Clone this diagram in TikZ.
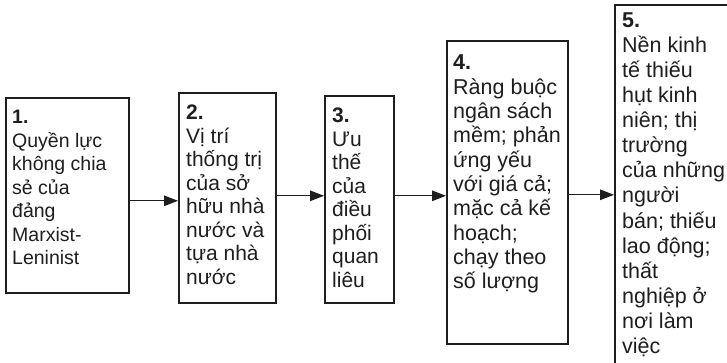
\documentclass[tikz,border=0pt]{standalone}
\usepackage{fontspec}
\setmainfont{Liberation Sans}
\usetikzlibrary{arrows.meta,calc}
\definecolor{ink}{HTML}{1E1E1E}
\tikzset{
  box/.style={draw=ink, line width=1.6pt, inner sep=0pt, anchor=north west, fill=none},
  txt/.style={anchor=north west, inner sep=0pt, align=left, text=ink,
    font=\fontsize{19.5pt}{23.5pt}\selectfont},
  txtbig/.style={txt, font=\fontsize{21pt}{23.5pt}\selectfont},
  arr/.style={draw=ink, line width=1.2pt, -{Triangle[length=14pt,width=10.5pt]}},
}
\begin{document}
\begin{tikzpicture}[x=1pt,y=-1pt]
\useasboundingbox (0,0) rectangle (727,362);
\clip (0,0) rectangle (727,362);
\fill[white] (0,0) rectangle (727,362);
% boxes
\node[box, minimum width=123pt, minimum height=195pt] (b1) at (5,97) {};
\node[box, minimum width=97pt, minimum height=210pt] (b2) at (178,92) {};
\node[box, minimum width=69pt, minimum height=207pt] (b3) at (324,95) {};
\node[box, minimum width=121pt, minimum height=303pt] (b4) at (446,40) {};
\node[box, minimum width=140pt, minimum height=380pt] (b5) at (614,4) {};
% texts
\node[txt] (t1) at ([xshift=7pt,yshift=-13pt]b1.north west)
  {\textbf{1.}\\Quyền lực\\không chia\\sẻ của\\đảng\\Marxist-\\Leninist};
\node[txtbig] (t2) at ([xshift=8pt,yshift=-13pt]b2.north west)
  {\textbf{2.}\\Vị trí\\thống trị\\của sở\\hữu nhà\\nước và\\tựa nhà\\nước};
\node[txtbig] (t3) at ([xshift=8pt,yshift=-13pt]b3.north west)
  {\textbf{3.}\\Ưu\\thế\\của\\điều\\phối\\quan\\liêu};
\node[txt, font=\fontsize{21.5pt}{24.3pt}\selectfont] (t4) at ([xshift=7pt,yshift=-15pt]b4.north west)
  {\textbf{4.}\\Ràng buộc\\ngân sách\\mềm; phản\\ứng yếu\\với giá cả;\\mặc cả kế\\hoạch;\\chạy theo\\số lượng};
\node[txt, font=\fontsize{21.5pt}{25pt}\selectfont] (t5) at ([xshift=8pt,yshift=-9pt]b5.north west)
  {\textbf{5.}\\Nền kinh\\tế thiếu\\hụt kinh\\niên; thị\\trường\\của những\\người\\bán; thiếu\\lao động;\\thất\\nghiệp ở\\nơi làm\\việc};
% arrows
\draw[arr] ([yshift=-5.5pt]b1.east) -- ([yshift=-5.5pt]b1.east -| b2.west);
\draw[arr] ([yshift=2pt]b2.east) -- ([yshift=2pt]b2.east -| b3.west);
\draw[arr] ([yshift=3.5pt]b3.east) -- ([yshift=3.5pt]b3.east -| b4.west);
\draw[arr] ([yshift=-2.5pt]b4.east) -- ([yshift=-2.5pt]b4.east -| b5.west);
\end{tikzpicture}
\end{document}
